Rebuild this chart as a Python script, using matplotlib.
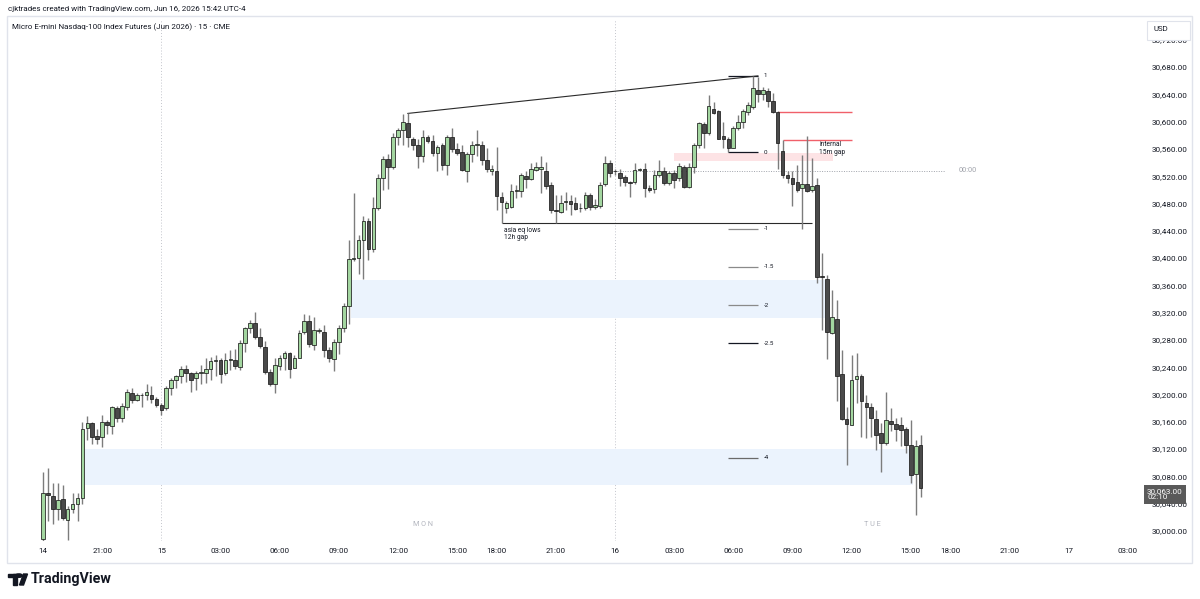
import numpy as np
import matplotlib.pyplot as plt
from matplotlib.patches import Rectangle, Circle, Polygon

# 15-minute bars, Sun 14 Jun 18:00 -> Tue 16 Jun 15:30 (bar index 0..178)
opens = [29988, 30056, 30051, 30032, 30047, 30016, 30032, 30040, 30048, 30151,
         30158, 30139, 30137, 30159, 30154, 30180, 30165, 30182, 30202, 30192,
         30199, 30199, 30200, 30193, 30185, 30180, 30210, 30221, 30227, 30238,
         30231, 30224, 30232, 30231, 30238, 30249, 30250, 30232, 30251, 30251,
         30241, 30276, 30298, 30305, 30284, 30270, 30233, 30216, 30242, 30254,
         30261, 30239, 30254, 30291, 30308, 30273, 30293, 30291, 30265, 30252,
         30277, 30297, 30330, 30399, 30400, 30426, 30455, 30414, 30473, 30518,
         30545, 30534, 30578, 30588, 30598, 30575, 30566, 30550, 30578, 30571,
         30554, 30565, 30536, 30578, 30560, 30555, 30528, 30552, 30566, 30566,
         30544, 30527, 30527, 30490, 30474, 30475, 30499, 30499, 30520, 30516,
         30529, 30530, 30528, 30507, 30471, 30468, 30482, 30484, 30480, 30473,
         30473, 30492, 30475, 30476, 30509, 30540, 30528, 30525, 30519, 30511,
         30511, 30529, 30530, 30502, 30501, 30522, 30527, 30510, 30525, 30517,
         30534, 30504, 30534, 30566, 30597, 30583, 30619, 30616, 30579, 30575,
         30562, 30590, 30600, 30614, 30622, 30647, 30640, 30645, 30630, 30614,
         30557, 30522, 30518, 30511, 30502, 30509, 30500, 30507, 30374, 30370,
         30290, 30310, 30230, 30164, 30156, 30223, 30227, 30188, 30182, 30164,
         30143, 30129, 30161, 30157, 30156, 30150, 30126, 30083, 30126]
highs = [30087, 30092, 30071, 30070, 30068, 30037, 30056, 30056, 30159, 30168,
         30160, 30150, 30170, 30163, 30183, 30183, 30188, 30208, 30209, 30202,
         30202, 30215, 30212, 30196, 30188, 30212, 30224, 30229, 30242, 30243,
         30233, 30234, 30243, 30254, 30255, 30258, 30253, 30261, 30265, 30266,
         30280, 30299, 30309, 30321, 30297, 30278, 30238, 30253, 30258, 30264,
         30263, 30258, 30295, 30318, 30317, 30314, 30297, 30302, 30270, 30282,
         30302, 30334, 30427, 30495, 30434, 30461, 30458, 30489, 30523, 30550,
         30552, 30583, 30591, 30611, 30612, 30578, 30575, 30588, 30581, 30581,
         30566, 30568, 30581, 30590, 30568, 30566, 30556, 30571, 30588, 30571,
         30561, 30536, 30563, 30497, 30484, 30508, 30507, 30524, 30527, 30539,
         30541, 30550, 30541, 30511, 30492, 30492, 30497, 30492, 30490, 30480,
         30497, 30495, 30486, 30512, 30550, 30544, 30530, 30531, 30522, 30513,
         30539, 30532, 30539, 30507, 30529, 30544, 30534, 30527, 30529, 30540,
         30536, 30539, 30568, 30600, 30600, 30639, 30628, 30617, 30600, 30578,
         30594, 30610, 30618, 30629, 30667, 30666, 30651, 30649, 30642, 30615,
         30573, 30527, 30527, 30536, 30551, 30579, 30546, 30517, 30407, 30375,
         30353, 30338, 30265, 30182, 30258, 30261, 30230, 30199, 30187, 30177,
         30158, 30204, 30180, 30165, 30167, 30153, 30163, 30133, 30141]
lows = [29983, 30014, 30010, 30016, 30016, 29987, 30026, 30014, 30040, 30133,
        30128, 30128, 30123, 30142, 30142, 30159, 30159, 30178, 30188, 30190,
        30182, 30192, 30187, 30182, 30170, 30177, 30199, 30210, 30217, 30219,
        30203, 30206, 30216, 30217, 30221, 30227, 30217, 30229, 30236, 30238,
        30236, 30263, 30290, 30281, 30268, 30230, 30212, 30202, 30236, 30236,
        30224, 30239, 30253, 30288, 30270, 30265, 30290, 30255, 30248, 30235,
        30260, 30292, 30303, 30395, 30376, 30369, 30397, 30409, 30470, 30500,
        30501, 30531, 30566, 30566, 30563, 30558, 30532, 30541, 30568, 30549,
        30527, 30529, 30522, 30555, 30551, 30528, 30512, 30541, 30549, 30537,
        30526, 30522, 30470, 30451, 30466, 30473, 30488, 30490, 30502, 30514,
        30528, 30495, 30501, 30466, 30451, 30466, 30471, 30463, 30470, 30468,
        30470, 30470, 30472, 30473, 30505, 30519, 30521, 30506, 30506, 30490,
        30509, 30527, 30490, 30497, 30495, 30519, 30507, 30507, 30502, 30513,
        30502, 30502, 30524, 30562, 30561, 30580, 30611, 30574, 30561, 30555,
        30561, 30588, 30590, 30610, 30618, 30629, 30632, 30622, 30613, 30531,
        30517, 30510, 30476, 30497, 30442, 30497, 30497, 30364, 30295, 30252,
        30289, 30190, 30163, 30097, 30155, 30187, 30137, 30136, 30138, 30119,
        30087, 30126, 30146, 30132, 30124, 30114, 30070, 30023, 30050]
closes = [30056, 30053, 30032, 30046, 30019, 30032, 30040, 30048, 30150, 30158,
          30138, 30135, 30159, 30155, 30181, 30165, 30183, 30204, 30192, 30199,
          30200, 30203, 30193, 30185, 30177, 30210, 30221, 30227, 30238, 30231,
          30222, 30232, 30233, 30238, 30249, 30250, 30230, 30251, 30252, 30242,
          30276, 30297, 30305, 30285, 30271, 30233, 30215, 30243, 30254, 30261,
          30238, 30254, 30290, 30308, 30274, 30295, 30293, 30265, 30254, 30277,
          30297, 30330, 30398, 30400, 30426, 30455, 30414, 30473, 30517, 30545,
          30534, 30578, 30588, 30599, 30578, 30565, 30550, 30578, 30572, 30554,
          30563, 30536, 30578, 30560, 30554, 30529, 30552, 30566, 30567, 30544,
          30531, 30531, 30491, 30482, 30480, 30499, 30500, 30522, 30516, 30530,
          30534, 30533, 30506, 30470, 30469, 30480, 30483, 30479, 30472, 30474,
          30492, 30475, 30478, 30507, 30540, 30524, 30527, 30517, 30511, 30510,
          30529, 30530, 30502, 30500, 30522, 30527, 30510, 30524, 30515, 30535,
          30504, 30534, 30566, 30598, 30583, 30623, 30613, 30575, 30575, 30561,
          30590, 30600, 30615, 30624, 30649, 30641, 30646, 30630, 30614, 30568,
          30522, 30517, 30509, 30500, 30508, 30499, 30506, 30372, 30372, 30291,
          30313, 30227, 30164, 30157, 30222, 30227, 30190, 30181, 30165, 30141,
          30129, 30163, 30157, 30150, 30148, 30126, 30082, 30125, 30063]

time_ticks = [0, 12, 24, 36, 48, 60, 72, 84, 92, 104, 116, 128, 140, 152,
              164, 176, 184, 196, 208, 220]
time_labels = ['14', '21:00', '15', '03:00', '06:00', '09:00', '12:00', '15:00',
               '18:00', '21:00', '16', '03:00', '06:00', '09:00', '12:00',
               '15:00', '18:00', '21:00', '17', '03:00']
day_breaks = [24, 116]
price_ticks = list(range(30000, 30721, 40))

# drawings
fib_high, fib_low = 30667, 30555
fib_levels = ['1', '0', '-1', '-1.5', '-2', '-2.5', '-4']
fib_colors = ['#131722', '#131722', '#8a8a8a', '#8a8a8a', '#8a8a8a', '#131722', '#6a6a6a']
fib_x = (139, 145)
trend_x, trend_p = (74, 145), (30612, 30667)
asia_x, asia_p = (93, 156), 30451
gap_x, gap_top, gap_bot = (149, 164.1), 30614, 30573
gap_bot_start = 150
pink_x, pink_p = (128, 160.2), (30542, 30554)
blue_upper_x, blue_upper_p = (62.5, 158.6), (30312, 30368)
blue_lower_x, blue_lower_p = (8.5, 176.5), (30067, 30120)
open_line_x, open_line_p = (116, 183), 30528
last_price = 30063

FONT = 'Roboto'
UP, DOWN, EDGE, WICK = '#a3d6a0', '#4a4a4a', '#1c1c1c', '#7c7c7c'


def draw_candles(ax):
    """Wicks and bodies from the OHLC lists."""
    x = np.arange(len(opens))
    o, h, l, c = map(np.array, (opens, highs, lows, closes))
    ax.vlines(x, l, h, color=WICK, lw=1.0, zorder=3)
    bottom = np.minimum(o, c)
    height = np.maximum(np.abs(c - o), 0.9)
    colors = [UP if cc >= oo else DOWN for oo, cc in zip(o, c)]
    ax.bar(x, height, bottom=bottom, width=0.74, color=colors,
           edgecolor=EDGE, linewidth=0.55, zorder=4)


def draw_drawings(ax):
    """Zones, fib levels and lines."""
    for (x0, x1), (p0, p1), col in [(blue_upper_x, blue_upper_p, '#ebf3fd'),
                                    (blue_lower_x, blue_lower_p, '#ebf3fd'),
                                    (pink_x, pink_p, '#fde3e5')]:
        ax.add_patch(Rectangle((x0, p0), x1 - x0, p1 - p0, facecolor=col,
                               edgecolor='none', zorder=1))
    rng = fib_high - fib_low
    for lab, col in zip(fib_levels, fib_colors):
        p = fib_low + float(lab) * rng
        ax.hlines(p, fib_x[0], fib_x[1], color=col, lw=0.9, zorder=2)
        ax.text(fib_x[1] + 1.2, p, lab, fontsize=4.5, color='#131722',
                va='center', ha='left', family=FONT)
    ax.plot(trend_x, trend_p, color='#2a2a2a', lw=0.8, zorder=2)
    ax.hlines(asia_p, asia_x[0], asia_x[1], color='#2a2a2a', lw=0.8, zorder=2)
    ax.text(asia_x[0] + 0.6, asia_p - 5, 'asia eq lows\n12h gap', fontsize=4.8,
            color='#131722', va='top', ha='left', family=FONT, linespacing=1.05)
    ax.hlines(gap_top, gap_x[0], gap_x[1], color='#f0606a', lw=1.0, zorder=2)
    ax.hlines(gap_bot, gap_bot_start, gap_x[1], color='#f0606a', lw=1.0, zorder=2)
    ax.text(157.4, gap_bot - 2, 'internal\n15m gap', fontsize=4.8, color='#131722',
            va='top', ha='left', family=FONT, linespacing=1.05)
    ax.hlines(open_line_p, open_line_x[0], open_line_x[1], color='#a0a3ab',
              lw=0.7, ls=(0, (1, 1.5)), zorder=2)
    ax.text(open_line_x[1] + 2.8, open_line_p, '00:00', fontsize=5.3,
            color='#a0a3ab', va='center', ha='left', family=FONT)
    for d in day_breaks:
        ax.axvline(d, color='#c3c5cc', lw=0.7, ls=(0, (1, 2)), zorder=0)
    ax.text(77, 30010, 'M O N', fontsize=5.2, color='#b2b5be', ha='center',
            va='center', family=FONT)
    ax.text(168.2, 30010, 'T U E', fontsize=5.2, color='#b2b5be', ha='center',
            va='center', family=FONT)


def style_axes(ax):
    ax.set_xlim(-7.1, 222.9)
    ax.set_ylim(29985.3, 30748.9)
    for s in ax.spines.values():
        s.set_visible(False)
    ax.yaxis.tick_right()
    ax.set_yticks(price_ticks)
    ax.set_yticklabels([f'{p:,.2f}' for p in price_ticks])
    ax.set_xticks(time_ticks)
    ax.set_xticklabels(time_labels)
    ax.tick_params(axis='y', length=0, pad=7, labelsize=5.9, labelcolor='#131722')
    ax.tick_params(axis='x', length=0, pad=5, labelsize=5.8, labelcolor='#131722')
    for t in ax.get_xticklabels() + ax.get_yticklabels():
        t.set_family(FONT)
    ax.text(1.0045, last_price - 9.5, f'{last_price:,.2f}\n02:10',
            transform=ax.get_yaxis_transform(), fontsize=5.9, color='white',
            va='center', ha='left', family=FONT, linespacing=1.0,
            bbox=dict(boxstyle='square,pad=0.4', fc='#5a5a5a', ec='none'),
            zorder=10, clip_on=False)


def draw_frame(fig):
    def fx(x):
        return x / 1200

    def fy(y):
        return 1 - y / 599

    fig.patches.append(Rectangle((fx(7), fy(563)), fx(1185), 547 / 599,
                                 transform=fig.transFigure, fill=False,
                                 edgecolor='#e0e3eb', lw=1.0))
    fig.text(fx(8), fy(9), 'cjktrades created with TradingView.com, Jun 16, 2026 15:42 UTC-4',
             fontsize=5.8, color='#131722', va='center', ha='left', family=FONT)
    fig.text(fx(12), fy(27), 'Micro E-mini Nasdaq-100 Index Futures (Jun 2026) \u00b7 15 \u00b7 CME',
             fontsize=5.8, color='#131722', va='center', ha='left', family=FONT)
    # USD box sits over the top price label, as in the snapshot
    usd = Rectangle((fx(1147), fy(39.5)), fx(43), 18.5 / 599, transform=fig.transFigure,
                    facecolor='white', edgecolor='#e0e3eb', lw=0.8, zorder=5)
    fig.patches.append(usd)
    fig.text(fx(1154), fy(29), 'USD', fontsize=5.6, color='#131722', va='center',
             ha='left', family=FONT, zorder=6)
    # TradingView logo
    k = '#131722'
    fig.patches.append(Rectangle((fx(8), fy(577)), fx(8.5), 3.2 / 599,
                                 transform=fig.transFigure, color=k))
    fig.patches.append(Rectangle((fx(12.5), fy(585)), fx(4), 11 / 599,
                                 transform=fig.transFigure, color=k))
    fig.patches.append(Circle((fx(19), fy(575.6)), 1.7 / 599, transform=fig.transFigure,
                              color=k))
    fig.patches.append(Polygon([(fx(19.5), fy(585)), (fx(23.5), fy(585)),
                                (fx(27.5), fy(574)), (fx(23.5), fy(574))],
                               closed=True, transform=fig.transFigure, color=k))
    fig.text(fx(31), fy(579), 'TradingView', fontsize=10.3, fontweight='bold',
             color=k, va='center', ha='left', family=FONT)


if __name__ == "__main__":
    fig = plt.figure(figsize=(12, 5.99), dpi=100)
    ax = fig.add_axes([8 / 1200, 1 - 541 / 599, 1134 / 1200, 521 / 599])
    draw_drawings(ax)
    draw_candles(ax)
    style_axes(ax)
    draw_frame(fig)
    fig.savefig('out.png', dpi=100, facecolor='white')
